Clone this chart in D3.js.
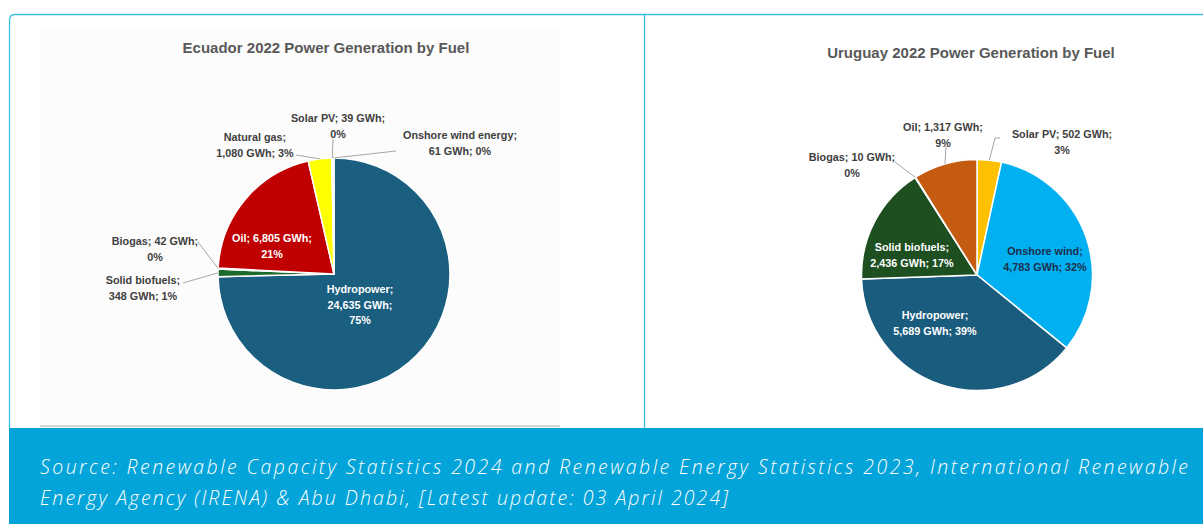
<!DOCTYPE html>
<html><head><meta charset="utf-8">
<script src="https://cdn.jsdelivr.net/npm/d3@7/dist/d3.min.js"></script>
<style>
html,body{margin:0;padding:0;background:#fff;}
svg{display:block;}
</style></head>
<body>
<svg id="chart" width="1203" height="524"></svg>
<script>
// ---------- DATA ----------
const ecuadorFuels  = ["Hydropower","Solid biofuels","Biogas","Oil","Natural gas","Solar PV","Onshore wind energy"];
const ecuadorValues = [24635, 348, 42, 6805, 1080, 39, 61];
const uruguayFuels  = ["Solar PV","Onshore wind","Hydropower","Solid biofuels","Biogas","Oil"];
const uruguayValues = [502, 4783, 5689, 2436, 10, 1317];
const titles = ["Ecuador 2022 Power Generation by Fuel","Uruguay 2022 Power Generation by Fuel"];
const sourceLines = [
  "Source: Renewable Capacity Statistics 2024 and Renewable Energy Statistics 2023, International Renewable",
  "Energy Agency (IRENA) & Abu Dhabi, [Latest update: 03 April 2024]"
];

// ---------- STYLE / LAYOUT ----------
const ecuadorColors = {"Hydropower":"#1a5e80","Solid biofuels":"#1c6b2c","Biogas":"#7f7f7f","Oil":"#c00000","Natural gas":"#ffff00","Solar PV":"#ffc000","Onshore wind energy":"#5b9bd5"};
const uruguayColors = {"Solar PV":"#ffc000","Onshore wind":"#00b0f0","Hydropower":"#1a5c7e","Solid biofuels":"#1d4f20","Biogas":"#7f7f7f","Oil":"#c55a11"};

const ecuadorLabels = {
  "Hydropower":          {groups:[1,1,1], pos:[26,31],   fill:"#ffffff"},
  "Oil":                 {groups:[2,1],   pos:[-62,-28], fill:"#ffffff"},
  "Natural gas":         {groups:[1,2],   pos:[-79,-129], fill:"#404040", lead:[[-38,-119]]},
  "Solar PV":            {groups:[2,1],   pos:[4,-148],  fill:"#404040", lead:[[-1,-135]]},
  "Onshore wind energy": {groups:[1,2],   pos:[126,-131], fill:"#404040", lead:[[62,-123]]},
  "Biogas":              {groups:[2,1],   pos:[-179,-25], fill:"#404040", lead:[[-136,-32]]},
  "Solid biofuels":      {groups:[1,2],   pos:[-191,14],  fill:"#404040", lead:[[-151,9]]}
};
const uruguayLabels = {
  "Solar PV":       {groups:[2,1], pos:[85,-133], fill:"#404040", lead:[[23,-137],[18,-137]]},
  "Onshore wind":   {groups:[1,2], pos:[68,-16],  fill:"#1c2f4c"},
  "Hydropower":     {groups:[1,2], pos:[-42,48],  fill:"#ffffff"},
  "Solid biofuels": {groups:[1,2], pos:[-65,-20], fill:"#ffffff"},
  "Biogas":         {groups:[2,1], pos:[-125,-110], fill:"#404040", lead:[[-82,-113]]},
  "Oil":            {groups:[2,1], pos:[-34,-140], fill:"#404040", lead:[[-31,-130]]}
};

const svg = d3.select("#chart");
const W = 1203, H = 524;

// card frame
svg.append("rect").attr("x",40).attr("y",30).attr("width",520).attr("height",396).attr("fill","#fcfcfc");
svg.append("line").attr("x1",40).attr("x2",560).attr("y1",426).attr("y2",426).attr("stroke","#d6d6d6").attr("stroke-width",2);
svg.append("path").attr("d","M9.5,428 V20 Q9.5,14.5 15,14.5 H1203").attr("fill","none").attr("stroke","#3dbfe8").attr("stroke-width",1.3);
svg.append("line").attr("x1",644.5).attr("x2",644.5).attr("y1",14).attr("y2",428).attr("stroke","#37bbe6").attr("stroke-width",1.3);

// footer
svg.append("rect").attr("x",9).attr("y",428).attr("width",W-9).attr("height",H-428).attr("fill","#02a4d9");
const ft = svg.append("g").attr("fill","#ffffff").attr("font-family","'Open Sans', 'DejaVu Sans', sans-serif")
  .attr("font-style","italic").attr("font-weight",300).attr("font-size",19.5);
ft.append("text").attr("x",40).attr("y",474).attr("textLength",1148).attr("lengthAdjust","spacing").text(sourceLines[0]);
ft.append("text").attr("x",40).attr("y",505).attr("textLength",688).attr("lengthAdjust","spacing").text(sourceLines[1]);

const fmt = d3.format(",");

function drawPie(names, values, colors, labels, cx, cy, r, title, titleX, titleY) {
  const total = d3.sum(values);
  const data = names.map((n,i)=>({name:n, value:values[i]}));
  const pie = d3.pie().sort(null).value(d=>d.value).startAngle(0).endAngle(2*Math.PI);
  const arcs = pie(data);
  const arc = d3.arc().innerRadius(0).outerRadius(r);
  const g = svg.append("g").attr("transform",`translate(${cx},${cy})`);

  svg.append("text").attr("x",titleX).attr("y",titleY).attr("text-anchor","middle")
    .attr("font-family","'Liberation Sans',Arial,sans-serif").attr("font-weight","bold")
    .attr("font-size",15).attr("fill","#595959").text(title);

  g.selectAll("path.slice").data(arcs).enter().append("path").attr("class","slice")
    .attr("d",arc).attr("fill",d=>colors[d.data.name]).attr("stroke","#ffffff").attr("stroke-width",1.5)
    .attr("stroke-linejoin","round");

  arcs.forEach(a=>{
    const L = labels[a.data.name];
    const pct = Math.round(a.data.value/total*100);
    const parts = [a.data.name+";", fmt(a.data.value)+" GWh;", pct+"%"];
    const lines = []; let k=0;
    L.groups.forEach(n=>{ lines.push(parts.slice(k,k+n).join(" ")); k+=n; });
    const lh = 15.5;
    const y0 = L.pos[1] - (lines.length-1)*lh/2;
    const t = g.append("text").attr("text-anchor","middle")
      .attr("font-family","'Liberation Sans',Arial,sans-serif").attr("font-weight","bold")
      .attr("font-size",10.8).attr("fill",L.fill);
    lines.forEach((ln,i)=>t.append("tspan").attr("x",L.pos[0]).attr("y",y0+i*lh).attr("dy","0.35em").text(ln));
    if (L.lead) {
      const mid = (a.startAngle+a.endAngle)/2;
      const end = [r*Math.sin(mid), -r*Math.cos(mid)];
      const pts = L.lead.concat([end]);
      g.append("path").attr("d",d3.line()(pts)).attr("fill","none").attr("stroke","#a6a6a6").attr("stroke-width",1);
    }
  });
}

drawPie(ecuadorFuels, ecuadorValues, ecuadorColors, ecuadorLabels, 334, 274, 116, titles[0], 326, 53);
drawPie(uruguayFuels, uruguayValues, uruguayColors, uruguayLabels, 977, 275, 115.5, titles[1], 971, 58);
</script>
</body></html>
